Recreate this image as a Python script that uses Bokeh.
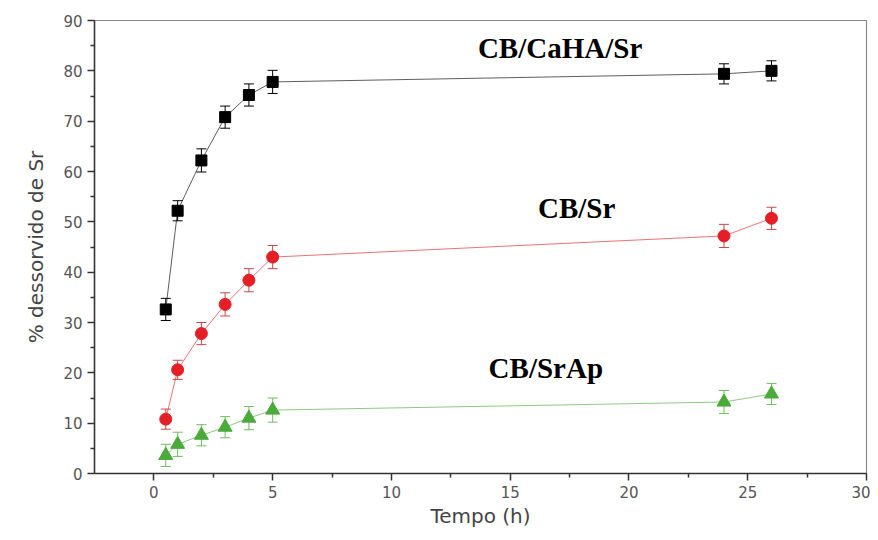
from bokeh.plotting import figure
from bokeh.models import ColumnDataSource, Whisker, Label, FixedTicker, Range1d
from bokeh.embed import file_html
from bokeh.resources import INLINE

time_h = [0.5, 1, 2, 3, 4, 5, 24, 26]
caha_sr = [32.6, 52.2, 62.2, 70.8, 75.2, 77.8, 79.4, 80.0]
caha_err = [2.2, 2.0, 2.3, 2.2, 2.2, 2.3, 2.0, 2.0]
cb_sr = [10.8, 20.6, 27.8, 33.6, 38.4, 43.0, 47.2, 50.7]
cb_sr_err = [2.0, 1.9, 2.2, 2.3, 2.3, 2.3, 2.3, 2.2]
cb_srap = [3.6, 5.8, 7.6, 9.2, 11.0, 12.6, 14.2, 15.8]
cb_srap_err = [2.2, 2.4, 2.1, 2.1, 2.3, 2.4, 2.3, 2.1]
series_names = ["CB/CaHA/Sr", "CB/Sr", "CB/SrAp"]
label_pos = [(17.1, 84.6), (17.8, 52.8), (16.5, 21.0)]

p = figure(width=870, height=532, output_backend="svg", toolbar_location=None,
           x_range=Range1d(-2.5, 30), y_range=Range1d(0, 90),
           min_border_left=94, min_border_top=20, min_border_right=4, min_border_bottom=59)
p.grid.visible = False
p.outline_line_color = "#888888"
p.outline_line_width = 1.2
p.background_fill_color = "white"
p.border_fill_color = "white"

p.xaxis.ticker = FixedTicker(ticks=[0, 5, 10, 15, 20, 25, 30],
                             minor_ticks=[2.5, 7.5, 12.5, 17.5, 22.5, 27.5])
p.yaxis.ticker = FixedTicker(ticks=list(range(0, 91, 10)),
                             minor_ticks=list(range(5, 90, 10)))
for ax in (p.xaxis[0], p.yaxis[0]):
    ax.axis_line_color = "#333333"
    ax.axis_line_width = 1.5
    ax.major_tick_line_color = "#333333"
    ax.minor_tick_line_color = "#333333"
    ax.major_tick_line_width = 1.5
    ax.minor_tick_line_width = 1.5
    ax.major_tick_out = 7
    ax.major_tick_in = 0
    ax.minor_tick_out = 4
    ax.minor_tick_in = 0
    ax.major_label_text_font = "DejaVu Sans"
    ax.major_label_text_font_size = "15px"
    ax.major_label_text_color = "#555555"
    ax.axis_label_text_font = "DejaVu Sans"
    ax.axis_label_text_font_size = "20px"
    ax.axis_label_text_font_style = "normal"
    ax.axis_label_text_color = "#444444"
p.xaxis.axis_label = "Tempo (h)"
p.yaxis.axis_label = "% dessorvido de Sr"
p.xaxis.major_label_standoff = 5
p.xaxis.axis_label_standoff = 3
p.yaxis.axis_label_standoff = 12

specs = [
    (caha_sr, caha_err, "black", "black", "square", 11),
    (cb_sr, cb_sr_err, "#e41f26", "#c84848", "circle", 12),
    (cb_srap, cb_srap_err, "#4aab3a", "#6cbf5a", "triangle", 14),
]
for (vals, errs, col, ecol, marker, size) in specs:
    src = ColumnDataSource(dict(x=time_h, y=vals,
                                lo=[v - e for v, e in zip(vals, errs)],
                                hi=[v + e for v, e in zip(vals, errs)]))
    w = Whisker(source=src, base="x", lower="lo", upper="hi",
                line_color=ecol, line_width=1)
    w.upper_head.size = 10
    w.lower_head.size = 10
    w.upper_head.line_color = ecol
    w.lower_head.line_color = ecol
    p.add_layout(w)
    p.line("x", "y", source=src, line_color=col, line_width=0.8, line_alpha=0.8)
    p.scatter("x", "y", source=src, marker=marker, size=size,
              fill_color=col, line_color=col)

for name, (lx, ly) in zip(series_names, label_pos):
    p.add_layout(Label(x=lx, y=ly, text=name, text_align="center",
                       text_baseline="middle", text_font="Liberation Serif",
                       text_font_style="bold", text_font_size="29px",
                       text_color="black"))

open("out.html", "w").write(file_html(p, INLINE))
